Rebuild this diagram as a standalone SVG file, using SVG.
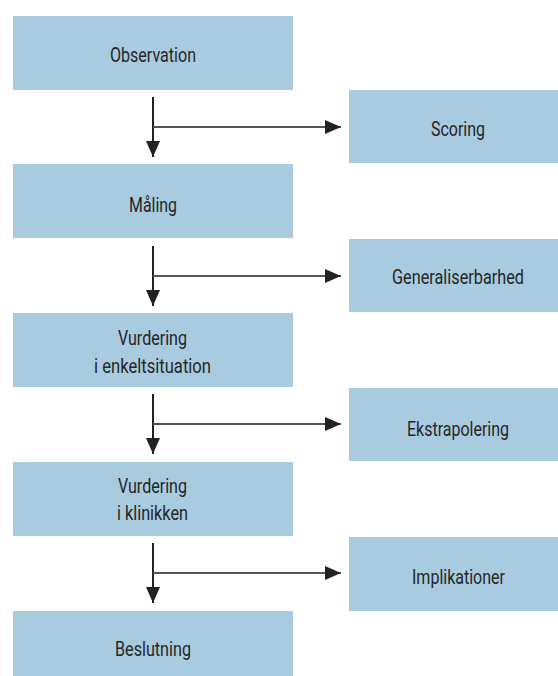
<svg xmlns="http://www.w3.org/2000/svg" width="558" height="676" viewBox="0 0 558 676">
<style>
.box{fill:#a8cbdf}
.t{font-family:"Roboto","Liberation Sans",sans-serif;font-size:20px;fill:#262626;text-anchor:middle}
.v{stroke:#222;stroke-width:2;fill:none}
.h{stroke:#555;stroke-width:2.2;fill:none}
</style>
<defs>
<marker id="ah" markerUnits="userSpaceOnUse" markerWidth="16" markerHeight="14" refX="16" refY="7" orient="auto">
<path d="M0,0 L16,7 L0,14 Z" fill="#222"/>
</marker>
</defs>
<g id="n1"><rect class="box" x="13" y="16" width="280" height="74"/><text class="t" x="153" y="62" textLength="86" lengthAdjust="spacingAndGlyphs">Observation</text></g>
<g id="n2"><rect class="box" x="13" y="164" width="280" height="74"/><text class="t" x="153" y="212" textLength="48" lengthAdjust="spacingAndGlyphs">Måling</text></g>
<g id="n3"><rect class="box" x="13" y="313" width="280" height="74"/><text class="t" x="152.5" y="345" textLength="69" lengthAdjust="spacingAndGlyphs">Vurdering</text><text class="t" x="152.5" y="373" textLength="117" lengthAdjust="spacingAndGlyphs">i enkeltsituation</text></g>
<g id="n4"><rect class="box" x="13" y="462" width="280" height="74"/><text class="t" x="152.5" y="493" textLength="69" lengthAdjust="spacingAndGlyphs">Vurdering</text><text class="t" x="152.5" y="520" textLength="71" lengthAdjust="spacingAndGlyphs">i klinikken</text></g>
<g id="n5"><rect class="box" x="13" y="611" width="280" height="65"/><text class="t" x="153" y="656" textLength="76" lengthAdjust="spacingAndGlyphs">Beslutning</text></g>
<g id="r1"><rect class="box" x="349" y="90" width="209" height="73"/><text class="t" x="458" y="136" textLength="54" lengthAdjust="spacingAndGlyphs">Scoring</text></g>
<g id="r2"><rect class="box" x="349" y="239" width="209" height="73"/><text class="t" x="458" y="284" textLength="132" lengthAdjust="spacingAndGlyphs">Generaliserbarhed</text></g>
<g id="r3"><rect class="box" x="349" y="388" width="209" height="73"/><text class="t" x="458" y="436" textLength="102" lengthAdjust="spacingAndGlyphs">Ekstrapolering</text></g>
<g id="r4"><rect class="box" x="349" y="537" width="209" height="74"/><text class="t" x="458.5" y="584" textLength="93" lengthAdjust="spacingAndGlyphs">Implikationer</text></g>
<g id="connectors">
<line class="v" x1="153" y1="97" x2="153" y2="157" marker-end="url(#ah)"/>
<line class="h" x1="153" y1="127" x2="341" y2="127" marker-end="url(#ah)"/>
<line class="v" x1="153" y1="246" x2="153" y2="306" marker-end="url(#ah)"/>
<line class="h" x1="153" y1="276" x2="341" y2="276" marker-end="url(#ah)"/>
<line class="v" x1="153" y1="394" x2="153" y2="454" marker-end="url(#ah)"/>
<line class="h" x1="153" y1="424" x2="341" y2="424" marker-end="url(#ah)"/>
<line class="v" x1="153" y1="543" x2="153" y2="603" marker-end="url(#ah)"/>
<line class="h" x1="153" y1="573" x2="341" y2="573" marker-end="url(#ah)"/>
</g>
</svg>
